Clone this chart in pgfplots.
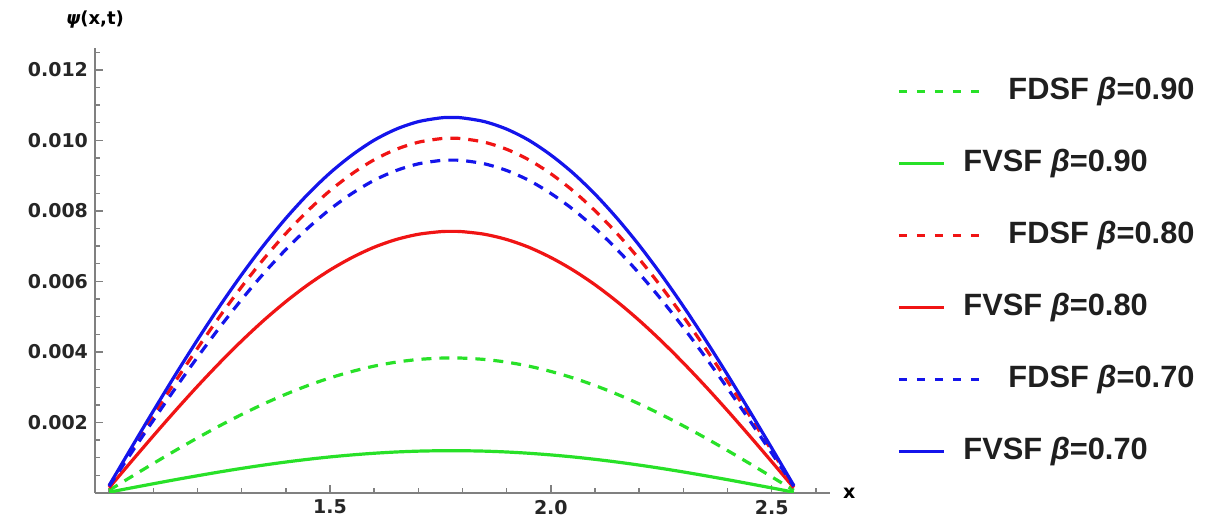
\documentclass[border=0pt]{standalone}
\usepackage{pgfplots}
\pgfplotsset{compat=1.18}
\usepackage{pgfplotstable}
\usepackage{fontspec}
\setmainfont{Liberation Sans}
\newfontfamily\djv{DejaVu Sans}

\definecolor{mgreen}{RGB}{40,225,40}
\definecolor{mred}{RGB}{240,20,20}
\definecolor{mblue}{RGB}{20,20,235}
\definecolor{axgray}{RGB}{128,128,128}

% columns: x, FVSF 0.70, FDSF 0.80, FDSF 0.70, FVSF 0.80, FDSF 0.90, FVSF 0.90
\pgfplotstableread{
x     vs70     ds80     ds70     vs80     ds90     vs90
1.00  0.000213 0.000201 0.000189 0.000148 0.000077 0.000024
1.05  0.001276 0.001205 0.001131 0.000889 0.000459 0.000144
1.10  0.002325 0.002196 0.002061 0.001620 0.000836 0.000262
1.15  0.003352 0.003166 0.002971 0.002335 0.001205 0.000378
1.20  0.004344 0.004103 0.003851 0.003027 0.001562 0.000489
1.25  0.005294 0.005001 0.004693 0.003688 0.001904 0.000597
1.30  0.006191 0.005848 0.005487 0.004313 0.002226 0.000698
1.35  0.007026 0.006637 0.006228 0.004895 0.002527 0.000792
1.40  0.007789 0.007358 0.006904 0.005427 0.002801 0.000878
1.45  0.008475 0.008006 0.007512 0.005905 0.003048 0.000955
1.50  0.009076 0.008573 0.008045 0.006323 0.003264 0.001023
1.55  0.009585 0.009054 0.008496 0.006678 0.003447 0.001080
1.60  0.010005 0.009450 0.008868 0.006970 0.003598 0.001127
1.65  0.010319 0.009747 0.009146 0.007189 0.003711 0.001163
1.70  0.010531 0.009947 0.009334 0.007337 0.003787 0.001187
1.75  0.010637 0.010048 0.009429 0.007411 0.003825 0.001199
1.775 0.010650 0.010060 0.009440 0.007420 0.003830 0.001200
1.80  0.010637 0.010048 0.009429 0.007411 0.003825 0.001199
1.85  0.010531 0.009947 0.009334 0.007337 0.003787 0.001187
1.90  0.010319 0.009747 0.009146 0.007189 0.003711 0.001163
1.95  0.010005 0.009450 0.008868 0.006970 0.003598 0.001127
2.00  0.009585 0.009054 0.008496 0.006678 0.003447 0.001080
2.05  0.009076 0.008573 0.008045 0.006323 0.003264 0.001023
2.10  0.008475 0.008006 0.007512 0.005905 0.003048 0.000955
2.15  0.007789 0.007358 0.006904 0.005427 0.002801 0.000878
2.20  0.007026 0.006637 0.006228 0.004895 0.002527 0.000792
2.25  0.006191 0.005848 0.005487 0.004313 0.002226 0.000698
2.30  0.005294 0.005001 0.004693 0.003688 0.001904 0.000597
2.35  0.004344 0.004103 0.003851 0.003027 0.001562 0.000489
2.40  0.003352 0.003166 0.002971 0.002335 0.001205 0.000378
2.45  0.002325 0.002196 0.002061 0.001620 0.000836 0.000262
2.50  0.001276 0.001205 0.001131 0.000889 0.000459 0.000144
2.55  0.000213 0.000201 0.000189 0.000148 0.000077 0.000024
}\psidata

\pgfplotsset{
  dashimg/.style={legend image code/.code={\draw[##1, dash pattern=on 4pt off 5pt] (0pt,0pt) -- (44pt,0pt);}},
  solidimg/.style={legend image code/.code={\draw[##1] (0pt,0pt) -- (22.5pt,0pt);}},
}

\begin{document}
\begin{tikzpicture}
\useasboundingbox (-47.5pt,-18.5pt) rectangle (555pt,246.5pt);
\begin{axis}[
  at={(0,0)}, anchor=south west,
  scale only axis,
  width=367.5pt, height=222.5pt,
  xmin=0.968, xmax=2.632,
  ymin=0, ymax=0.01262,
  axis lines=left,
  axis line style={axgray, line width=0.8pt, -},
  tick style={axgray, line width=0.7pt},
  tick align=inside,
  major tick length=4pt,
  minor tick length=2.5pt,
  xtick={1.5,2.0,2.5},
  minor xtick={1.0,1.1,1.2,1.3,1.4,1.6,1.7,1.8,1.9,2.1,2.2,2.3,2.4,2.6},
  ytick={0.002,0.004,0.006,0.008,0.010,0.012},
  minor ytick={0.0005,0.001,0.0015,0.0025,0.003,0.0035,0.0045,0.005,0.0055,0.0065,0.007,0.0075,0.0085,0.009,0.0095,0.0105,0.011,0.0115,0.0125},
  scaled y ticks=false,
  /pgf/number format/assume math mode=true,
  xticklabel style={/pgf/number format/.cd, fixed, fixed zerofill, precision=1},
  yticklabel style={/pgf/number format/.cd, fixed, fixed zerofill, precision=3},
  ticklabel style={font=\djv\bfseries\fontsize{9.5}{11}\selectfont, text=black!85},
  xlabel={x},
  ylabel={{\itshape ψ}(x,t)},
  xlabel style={font=\djv\bfseries\fontsize{9.5}{11}\selectfont, at={(rel axis cs:1,0)}, anchor=west, xshift=3pt},
  ylabel style={font=\djv\bfseries\fontsize{9}{11}\selectfont, at={(rel axis cs:0,1)}, anchor=center, rotate=-90, yshift=14pt},
  legend cell align=left,
  legend style={at={(rel axis cs:1.091,0.935)}, anchor=north west, draw=none, fill=none,
    inner sep=0pt, row sep=22pt, column sep=10pt,
    font=\bfseries\fontsize{15.4}{18}\selectfont, text=black!88,
    nodes={inner sep=0pt, text height=11pt, text depth=3pt}},
  every axis plot/.append style={line width=1.6pt},
]
\addplot[mgreen, smooth, dash pattern=on 5pt off 4pt, dashimg] table[x=x, y=ds90] {\psidata};
\addlegendentry{FDSF {\itshape β}=0.90}
\addplot[mgreen, smooth, solidimg] table[x=x, y=vs90] {\psidata};
\addlegendentry{\hspace*{-22.5pt}FVSF {\itshape β}=0.90}
\addplot[mred, smooth, dash pattern=on 5pt off 4pt, dashimg] table[x=x, y=ds80] {\psidata};
\addlegendentry{FDSF {\itshape β}=0.80}
\addplot[mred, smooth, solidimg] table[x=x, y=vs80] {\psidata};
\addlegendentry{\hspace*{-22.5pt}FVSF {\itshape β}=0.80}
\addplot[mblue, smooth, dash pattern=on 5pt off 4pt, dashimg] table[x=x, y=ds70] {\psidata};
\addlegendentry{FDSF {\itshape β}=0.70}
\addplot[mblue, smooth, solidimg] table[x=x, y=vs70] {\psidata};
\addlegendentry{\hspace*{-22.5pt}FVSF {\itshape β}=0.70}
\end{axis}
\end{tikzpicture}
\end{document}
